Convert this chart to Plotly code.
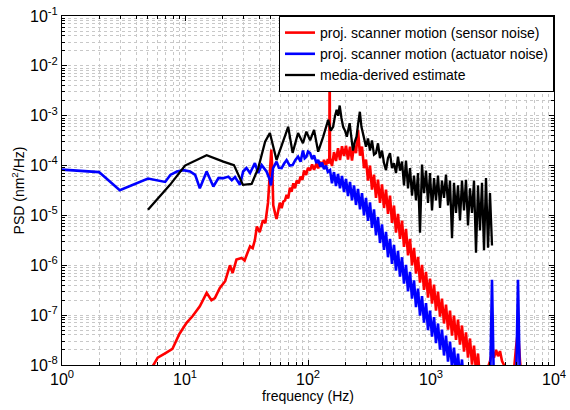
import plotly.graph_objects as go

# ---------------- data ----------------
# dense frequency grid (Hz) used for the high-frequency part of the spectra
freq_dense = [151, 156.7, 162.7, 168.9, 175.4, 182.0, 189.0, 196.2, 203.7, 211.5,
              219.5, 227.9, 236.6, 245.6, 255.0, 264.7, 274.8, 285.3, 296.1, 307.4,
              319.2, 331.3, 344.0, 357.1, 370.7, 384.9, 399.5, 414.8, 430.6, 447.0,
              464.2, 481.8, 500.2, 519.3, 539.1, 559.8, 581.1, 603.3, 626.2, 650.3,
              675.0, 700.7, 727.5, 755.1, 784.0, 813.9, 845.0, 877.3, 910.7, 945.4,
              981.5, 1019, 1058, 1098, 1140, 1184, 1228, 1276, 1324, 1375,
              1427, 1482, 1538, 1597, 1658, 1721, 1786, 1855, 1925, 1999,
              2075, 2154, 2237, 2322, 2411, 2502, 2598, 2697, 2800, 2907,
              3017, 3132, 3252, 3377, 3505, 3639, 3778, 3922, 4072, 4227,
              4388, 4555, 4729, 4910, 5097, 5291, 5493, 5703]

# proj. scanner motion (sensor noise)
freq_red_low = [5.4, 6.0, 7.0, 7.9, 9.0, 10.3, 11.5, 13.2, 15.0, 16.4, 17.5, 19.2, 21.2,
                23.2, 24.4, 26.2, 28.9, 30.5, 32.0, 33.8, 35.5, 37.0, 38.4, 40.5, 43.0,
                45.0, 47.3, 49.0, 50.3, 51.2, 52.2, 54.0, 55.5, 57.5, 59.0, 61.0, 63.0,
                65.0, 67.0, 69.0, 71.3, 73.5, 76.0, 78.5, 81.0, 84.0, 87.0, 90.0, 93.0,
                96.5, 100.0, 104.0, 108.0, 112.0, 117.0, 121.0, 126.0, 130.0, 135.0,
                140.0, 145.0, 149.0, 150.0]
psd_red_low = [9e-9, 1.4e-8, 1.75e-8, 2.1e-8, 4.2e-8, 7e-8, 9.5e-8, 1.5e-7, 2.8e-7, 2.0e-7,
               2.2e-7, 3.5e-7, 4.8e-7, 1.0e-6, 7e-7, 1.3e-6, 1.4e-6, 1.25e-6, 1.7e-6, 2.4e-6,
               2.2e-6, 3.2e-6, 6e-6, 4.6e-6, 8e-6, 7e-6, 1.8e-5, 6e-5, 2.1e-4, 9e-5,
               1.6e-5, 1.1e-5, 8.5e-6, 1.3e-5, 1.8e-5, 1.4e-5, 1.9e-5, 2.0e-5, 2.6e-5, 2.2e-5,
               3.6e-5, 3.0e-5, 4.4e-5, 3.5e-5, 5.0e-5, 4.4e-5, 6.0e-5, 5.2e-5, 8.0e-5, 6.5e-5,
               9.0e-5, 8.0e-5, 1.05e-4, 8.2e-5, 1.1e-4, 8.8e-5, 1.2e-4, 9.5e-5, 1.3e-4,
               1.0e-4, 1.35e-4, 1.1e-4, 1.2e-2]
psd_red_dense = [1.41e-4, 9.8e-5, 1.86e-4, 1.23e-4, 2.24e-4, 1.29e-4, 2.45e-4, 1.55e-4, 2.5e-4, 1.32e-4,
                 2.4e-4, 1.26e-4, 2.5e-4, 1.78e-4, 5.2e-4, 1.58e-4, 2.4e-4, 8.9e-5, 1.32e-4, 5.0e-5,
                 1.0e-4, 3.3e-5, 6.6e-5, 2.24e-5, 5.2e-5, 1.78e-5, 4.2e-5, 1.41e-5, 3.3e-5, 1.07e-5,
                 2.5e-5, 7.1e-6, 1.58e-5, 4.5e-6, 1.07e-5, 3.4e-6, 7.9e-6, 2.34e-6, 5.4e-6, 1.58e-6,
                 3.4e-6, 1.0e-6, 2.24e-6, 6.8e-7, 1.48e-6, 4.5e-7, 1.02e-6, 3.2e-7, 7.4e-7, 2.24e-7,
                 5.4e-7, 1.7e-7, 4.1e-7, 1.23e-7, 2.95e-7, 9.3e-8, 2.14e-7, 6.8e-8, 1.62e-7, 5.1e-8,
                 1.23e-7, 3.9e-8, 9.8e-8, 3.2e-8, 8.1e-8, 2.57e-8, 6.2e-8, 1.86e-8, 4.5e-8, 1.41e-8,
                 3.4e-8, 1.02e-8, 2.45e-8, 7.4e-9, 1.7e-8, 5.1e-9, 8e-9, 6e-9, 7e-9, 9e-9,
                 1.2e-8, 1.8e-8, 1.4e-8, 2.0e-8, 1.5e-8, 1.9e-8, 1.2e-8, 1.0e-8, 7e-9, 5e-9,
                 4e-9, 5e-9, 8e-9, 2.2e-8, 5.0e-8, 1.2e-8, 5e-9, 4e-9]

# proj. scanner motion (actuator noise)
freq_blue_low = [1.0, 2.0, 2.95, 5.0, 6.9, 7.6, 8.6, 9.7, 11.0, 12.1, 13.2, 15.0, 17.0,
                 18.7, 20.5, 22.5, 24.0, 25.5, 28.0, 29.7, 31.6, 33.8, 37.0, 39.4, 42.0,
                 46.0, 49.0, 50.0, 52.0, 55.5, 58.0, 61.0, 64.0, 67.0, 71.0, 75.0, 79.0,
                 83.0, 87.0, 91.0, 94.0, 97.0, 100.0, 104.0, 108.0, 112.0, 117.0, 121.0,
                 126.0, 130.0, 135.0, 140.0, 145.0]
psd_blue_low = [8.3e-5, 7.4e-5, 3.2e-5, 5.5e-5, 4.7e-5, 6.5e-5, 7.6e-5, 8.1e-5, 7.6e-5, 6.5e-5,
                3.5e-5, 7.6e-5, 3.8e-5, 5.6e-5, 5.6e-5, 6.0e-5, 5.1e-5, 5.9e-5, 4.1e-5, 7.6e-5,
                8.9e-5, 7.1e-5, 1.12e-4, 7.1e-5, 1.02e-4, 7.6e-5, 5.1e-5, 4.0e-5, 8.9e-5, 1.2e-4,
                9e-5, 8.9e-5, 1.1e-4, 1.29e-4, 1.0e-4, 1.02e-4, 1.3e-4, 1.51e-4, 1.2e-4, 2.0e-4,
                1.4e-4, 1.5e-4, 1.9e-4, 1.78e-4, 1.35e-4, 1.6e-4, 1.12e-4, 1.3e-4, 9.5e-5,
                1.15e-4, 8.5e-5, 1.0e-4, 7.5e-5]
psd_blue_dense = [8.1e-5, 4.4e-5, 7.4e-5, 3.9e-5, 6.8e-5, 3.5e-5, 6.2e-5, 2.95e-5, 5.4e-5, 2.45e-5,
                  4.7e-5, 2.0e-5, 4.0e-5, 1.62e-5, 3.4e-5, 1.32e-5, 2.8e-5, 1.0e-5, 2.24e-5, 7.8e-6,
                  1.82e-5, 5.6e-6, 1.32e-5, 4.0e-6, 9.3e-6, 2.8e-6, 6.6e-6, 2.04e-6, 4.7e-6, 1.45e-6,
                  3.4e-6, 1.07e-6, 2.57e-6, 7.8e-7, 1.95e-6, 5.9e-7, 1.45e-6, 4.3e-7, 1.02e-6, 3.0e-7,
                  7.4e-7, 2.14e-7, 5.0e-7, 1.45e-7, 3.4e-7, 9.8e-8, 2.4e-7, 7.1e-8, 1.74e-7, 5.0e-8,
                  1.23e-7, 3.7e-8, 9.1e-8, 2.75e-8, 6.8e-8, 2.04e-8, 5.1e-8, 1.55e-8, 3.9e-8, 1.17e-8,
                  2.95e-8, 8.9e-9, 2.24e-8, 6.8e-9, 1.7e-8, 5.1e-9, 1.29e-8, 4e-9, 9.8e-9, 3e-9,
                  4e-9, 3e-9, 3e-9, 3e-9, 3e-9, 3e-9, 3e-9, 3e-9, 3e-9, 3e-9,
                  3e-9, 5.1e-7, 3e-9, 3e-9, 3e-9, 3e-9, 3e-9, 3e-9, 3e-9, 3e-9,
                  3e-9, 3e-9, 3e-9, 3e-9, 5.1e-7, 3e-9, 3e-9, 3e-9]

# media-derived estimate
freq_black_low = [5.0, 7.55, 10.0, 15.0, 20.5, 25.0, 29.6, 34.8, 39.4, 44.8, 49.0, 55.5,
                  69.0, 75.0, 83.0, 91.0, 97.0, 104.0, 112.0, 121.0, 133.0, 146.0, 153.0,
                  160.0, 166.0, 171.0, 176.0, 181.0, 187.0, 193.0, 200.0, 207.0, 218.0,
                  225.0, 232.0, 240.0, 248.0, 256.0, 264.0, 272.0, 280.0, 288.0]
psd_black_low = [1.3e-5, 4.1e-5, 1.0e-4, 1.62e-4, 1.2e-4, 1.02e-4, 4.1e-5, 4.3e-5, 8.9e-5, 3.0e-4,
                 4.5e-4, 1.29e-4, 6.0e-4, 1.8e-4, 4.5e-4, 2.8e-4, 4.8e-4, 3.2e-4, 5.2e-4, 1.9e-4,
                 3.8e-4, 8.3e-4, 5.0e-4, 6.0e-4, 1.0e-3, 1.32e-3, 1.0e-3, 1.6e-3, 9e-4, 6.0e-4,
                 5e-4, 3.8e-4, 7.1e-4, 3.5e-4, 2.0e-4, 3e-4, 3.8e-4, 7e-4, 1.2e-3, 6e-4,
                 4.5e-4, 3.2e-4]
psd_black_dense = [2.4e-4, 3.5e-4, 2.0e-4, 3.2e-4, 1.66e-4, 1.78e-4, 2.8e-4, 1.41e-4, 2.0e-4, 1.12e-4,
                   8.1e-5, 1.41e-4, 1.78e-4, 8.9e-5, 1.12e-4, 7.1e-5, 1.51e-4,
                   7.9e-5, 1.2e-4, 4.0e-5, 1.26e-4, 3.5e-5, 8.9e-5, 2.5e-5, 6.3e-5, 2.0e-5, 7.1e-5,
                   4.5e-6, 1.05e-4, 2.8e-5, 7.9e-5, 1.78e-5, 7.1e-5, 1.26e-5, 5.6e-5, 2.0e-5, 6.3e-5,
                   1.41e-5, 5.0e-5, 2.24e-5, 6.6e-5, 1.58e-5, 5.0e-5, 3.5e-6, 4.5e-5, 1.12e-5, 4.0e-5,
                   7.9e-6, 5.0e-5, 1.26e-5, 5.2e-5, 6.3e-6, 3.5e-5, 1.12e-5, 5.0e-5, 1.78e-6, 4.0e-5,
                   5.0e-6, 4.5e-5, 2.0e-6, 5.6e-5, 2.24e-6, 2.8e-5, 2.5e-6]

series_names = ["proj. scanner motion (sensor noise)",
                "proj. scanner motion (actuator noise)",
                "media-derived estimate"]

x_tick_vals = [1, 10, 100, 1000, 10000]
x_tick_text = ["10<sup>0</sup>", "10<sup>1</sup>", "10<sup>2</sup>", "10<sup>3</sup>", "10<sup>4</sup>"]
y_tick_vals = [1e-8, 1e-7, 1e-6, 1e-5, 1e-4, 1e-3, 1e-2, 1e-1]
y_tick_text = ["10<sup>-8</sup>", "10<sup>-7</sup>", "10<sup>-6</sup>", "10<sup>-5</sup>",
               "10<sup>-4</sup>", "10<sup>-3</sup>", "10<sup>-2</sup>", "10<sup>-1</sup>"]

# ---------------- figure ----------------
freq_red = freq_red_low + freq_dense
psd_red = psd_red_low + psd_red_dense
freq_blue = freq_blue_low + freq_dense
psd_blue = psd_blue_low + psd_blue_dense
freq_black = freq_black_low + freq_dense[18:82]
psd_black = psd_black_low + psd_black_dense

fig = go.Figure()
fig.add_trace(go.Scatter(x=freq_red, y=psd_red, mode="lines", name=series_names[0],
                         line=dict(color="#ff0000", width=2.6)))
fig.add_trace(go.Scatter(x=freq_blue, y=psd_blue, mode="lines", name=series_names[1],
                         line=dict(color="#0000ff", width=2.6)))
fig.add_trace(go.Scatter(x=freq_black, y=psd_black, mode="lines", name=series_names[2],
                         line=dict(color="#000000", width=2.3)))

minor_x = [m * 10 ** d for d in range(0, 4) for m in range(2, 10)]
minor_y = [m * 10.0 ** d for d in range(-8, -1) for m in range(2, 10)]

grid_col = "#c8c8c8"
fam = "Liberation Sans, Arial, sans-serif"
axis_font = dict(family=fam, size=16, color="black")

fig.update_xaxes(type="log", range=[0, 4], tickmode="array", tickvals=x_tick_vals,
                 ticktext=x_tick_text, tickfont=axis_font,
                 showline=True, linecolor="black", linewidth=1, mirror="allticks",
                 ticks="inside", ticklen=5, tickcolor="black",
                 showgrid=True, gridcolor=grid_col, griddash="dot", gridwidth=1,
                 zeroline=False,
                 minor=dict(tickmode="array", tickvals=minor_x, ticks="inside", ticklen=3,
                            tickcolor="black", showgrid=True, gridcolor=grid_col,
                            griddash="dot", gridwidth=1),
                 title=dict(text="frequency (Hz)", font=dict(family=fam, size=14, color="black"),
                            standoff=0),
                 automargin=False)
fig.update_yaxes(type="log", range=[-8, -1], tickmode="array", tickvals=y_tick_vals,
                 ticktext=y_tick_text, tickfont=axis_font,
                 showline=True, linecolor="black", linewidth=1, mirror="allticks",
                 ticks="inside", ticklen=5, tickcolor="black",
                 showgrid=True, gridcolor=grid_col, griddash="dot", gridwidth=1,
                 zeroline=False,
                 minor=dict(tickmode="array", tickvals=minor_y, ticks="inside", ticklen=3,
                            tickcolor="black", showgrid=True, gridcolor=grid_col,
                            griddash="dot", gridwidth=1),
                 title=dict(text="PSD (nm<sup>2</sup>/Hz)", font=dict(family=fam, size=14, color="black"),
                            standoff=2),
                 automargin=False)

fig.update_layout(
    width=570, height=410,
    margin=dict(l=62, r=16, t=16, b=45),
    paper_bgcolor="white", plot_bgcolor="white",
    font=dict(family=fam, size=14, color="black"),
    showlegend=True,
    legend=dict(x=1, y=1, xanchor="right", yanchor="top", bgcolor="white",
                bordercolor="black", borderwidth=1, itemwidth=30,
                font=dict(family=fam, size=14, color="black"),
                tracegroupgap=0),
)

fig.write_html("out.html")
